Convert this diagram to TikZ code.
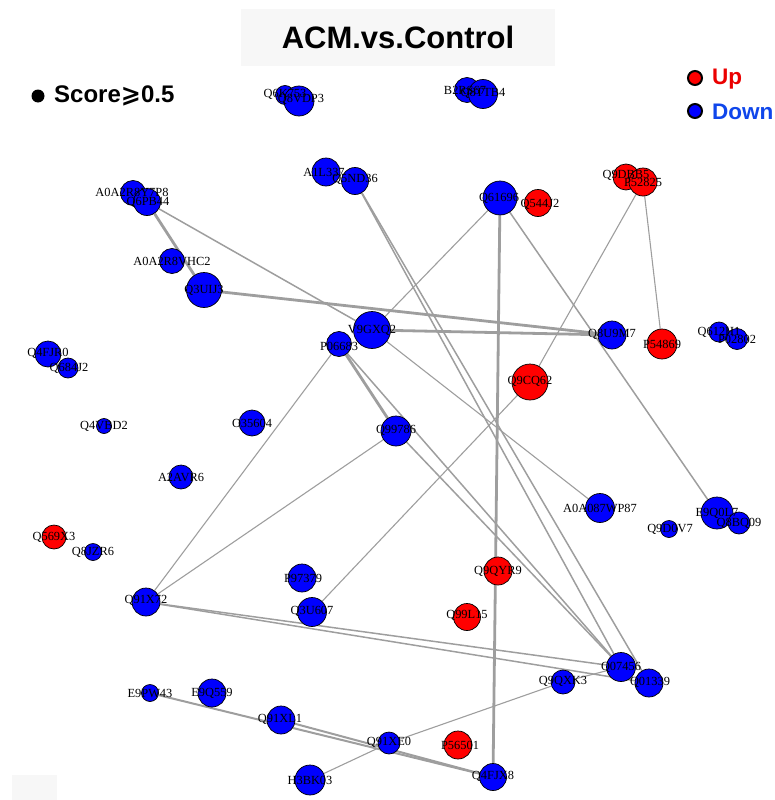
\documentclass[tikz,border=0pt]{standalone}
\usepackage{fontspec}
\setmainfont{Liberation Serif}
\newfontfamily\headfont{Liberation Sans}
\newfontfamily\symfont{DejaVu Sans}
\usetikzlibrary{backgrounds}
\definecolor{edgegray}{RGB}{158,158,158}
\definecolor{boxgray}{RGB}{247,247,247}
\definecolor{vred}{RGB}{255,0,0}
\definecolor{vblue}{RGB}{0,0,255}
\definecolor{legred}{RGB}{235,0,0}
\definecolor{legblue}{RGB}{15,70,235}
\begin{document}
\begin{tikzpicture}[x=1pt,y=-1pt,
  vert/.style={circle, draw=black, line width=0.7pt, inner sep=0pt, minimum size=#1},
  lbl/.style={font=\fontsize{12.4}{12.4}\selectfont, inner sep=0pt},
  ethick/.style={draw=edgegray, line width=2.8pt},
  edouble/.style={draw=edgegray, line width=2pt},
  emid/.style={draw=edgegray, line width=1.5pt},
  ethin/.style={draw=edgegray, line width=1.1pt},
  keytext/.style={anchor=west, inner sep=0pt, font=\headfont\bfseries\fontsize{22.5}{22.5}\selectfont}]
\clip (0,0) rectangle (775,800);
\useasboundingbox (0,0) rectangle (775,800);

% title and corner patch
\node[fill=boxgray, minimum width=314pt, minimum height=57pt, inner sep=0pt,
      font=\headfont\bfseries\fontsize{31}{31}\selectfont] (title) at (398,37.5) {ACM.vs.Control};
\fill[boxgray] (12,775) rectangle (57,800);

% legend
\node[circle, fill=black, minimum size=13pt, inner sep=0pt] (scoredot) at (38,96) {};
\node[keytext, font=\headfont\bfseries\fontsize{24}{24}\selectfont] (scoretxt) at (54,96) {Score{\symfont\bfseries ⩾}0.5};
\node[circle, draw=black, line width=2pt, fill=vred, minimum size=14pt, inner sep=0pt] (upkey) at (695,78) {};
\node[keytext, text=legred] (uptxt) at (712,79) {Up};
\node[circle, draw=black, line width=2pt, fill=vblue, minimum size=14pt, inner sep=0pt] (downkey) at (695,111) {};
\node[keytext, text=legblue] (downtxt) at (712,112) {Down};

% vertices
\foreach \nm/\px/\py/\sz/\col in {
  Q6K753/285/95/19/vblue, Q8VDP3/299/101/30/vblue,
  B2RS67/467/90/25/vblue, Q8TTB4/483/94/29/vblue,
  A0A2R8Y7P8/133/193/25/vblue, Q6PB44/147/202/27/vblue,
  A0A2R8VHC2/172/261/25/vblue, Q3UIJ3/204/290/35/vblue,
  A1L337/326/172/28/vblue, Q5ND36/355/181/27/vblue,
  Q61696/500/198/34/vblue, Q544J2/538/203/27/vred,
  Q9DBB5/626/177/26/vred, P52825/643/182/28/vred,
  V9GXQ2/372/330/37/vblue, P06683/339/344/25/vblue,
  Q8U9M7/612/335/28/vblue, P54869/662/344/30/vred,
  Q612H1/719/332/20/vblue, P02802/737/339/21/vblue,
  Q9CQ62/530/382/36/vred,
  Q4FJR0/48/354/26/vblue, Q684J2/68/368/20/vblue,
  Q4VBD2/104/426/15/vblue, O35604/252/423/26/vblue,
  Q99786/396/431/30/vblue, A2AVR6/181/477/24/vblue,
  Q569X3/54/537/24/vred, Q8JZR6/93/552/17/vblue,
  Q91X72/146/602/28/vblue, P97379/302/578/28/vblue,
  Q3U607/312/612/29/vblue, A0A087WP87/600/508/29/vblue,
  Q9D0V7/669/529/17/vblue, E9Q0L7/717/513/32/vblue,
  Q8BQ09/739/523/22/vblue, Q9QYR9/498/571/28/vred,
  Q99L15/467/617/27/vred, Q07456/621/667/29/vblue,
  Q01339/649/683/28/vblue, Q9QXK3/563/682/24/vblue,
  E9PW43/150/693/17/vblue, E9Q559/212/693/28/vblue,
  Q91XL1/281/720/28/vblue, Q91XE0/389/743/22/vblue,
  P56501/458/745/28/vred, Q4FJX8/493/777/27/vblue,
  H3BK03/310/780/30/vblue}
  \node[vert=\sz, fill=\col] (\nm) at (\px,\py) {};

% vertex labels
\foreach \nm/\lx/\ly in {
  Q6K753/285/94, Q8VDP3/301/99, B2RS67/465/90, Q8TTB4/483/93,
  A0A2R8Y7P8/132/192, Q6PB44/148/202, A0A2R8VHC2/172/261, Q3UIJ3/204/290,
  A1L337/324/172, Q5ND36/355/179, Q61696/499/198, Q544J2/540/204,
  Q9DBB5/626/175, P52825/643/182, V9GXQ2/372/330, P06683/339/346,
  Q8U9M7/612/334, P54869/662/344, Q612H1/719/332, P02802/737/339,
  Q9CQ62/530/381, Q4FJR0/48/353, Q684J2/69/368, Q4VBD2/104/426,
  O35604/252/423, Q99786/396/430, A2AVR6/181/477, Q569X3/54/537,
  Q8JZR6/93/552, Q91X72/146/600, P97379/303/578, Q3U607/312/611,
  A0A087WP87/600/508, Q9D0V7/670/529, E9Q0L7/717/513, Q8BQ09/739/523,
  Q9QYR9/498/571, Q99L15/467/615, Q07456/621/667, Q01339/650/682,
  Q9QXK3/563/681, E9PW43/150/693, E9Q559/212/693, Q91XL1/280/719,
  Q91XE0/389/742, P56501/460/745, Q4FJX8/493/776, H3BK03/310/780}
  \node[lbl] (t\nm) at (\lx,\ly) {\nm};

% connectors, beneath the vertices
\begin{scope}[on background layer]
  \foreach \a/\b in {Q6PB44/Q3UIJ3, Q3UIJ3/Q8U9M7, V9GXQ2/Q8U9M7,
                     Q61696/Q4FJX8, P06683/Q99786}
    \draw[ethick] (\a) -- (\b);
  \foreach \a/\b in {E9PW43/Q4FJX8, Q91XL1/Q4FJX8}
    \draw[edouble] (\a) -- (\b);
  \foreach \a/\b in {Q5ND36/Q07456, Q5ND36/Q01339, P06683/Q07456,
                     Q99786/Q07456, Q91X72/Q07456, Q91X72/Q01339,
                     Q61696/E9Q0L7, Q6PB44/V9GXQ2}
    \draw[emid] (\a) -- (\b);
  \foreach \a/\b in {V9GXQ2/Q61696, V9GXQ2/A0A087WP87, P52825/P54869,
                     P52825/Q9CQ62, Q9CQ62/Q3U607, P06683/Q91X72,
                     Q99786/Q91X72, Q9QXK3/Q91XE0, Q91XE0/H3BK03,
                     Q9QXK3/Q07456}
    \draw[ethin] (\a) -- (\b);
\end{scope}
\end{tikzpicture}
\end{document}
